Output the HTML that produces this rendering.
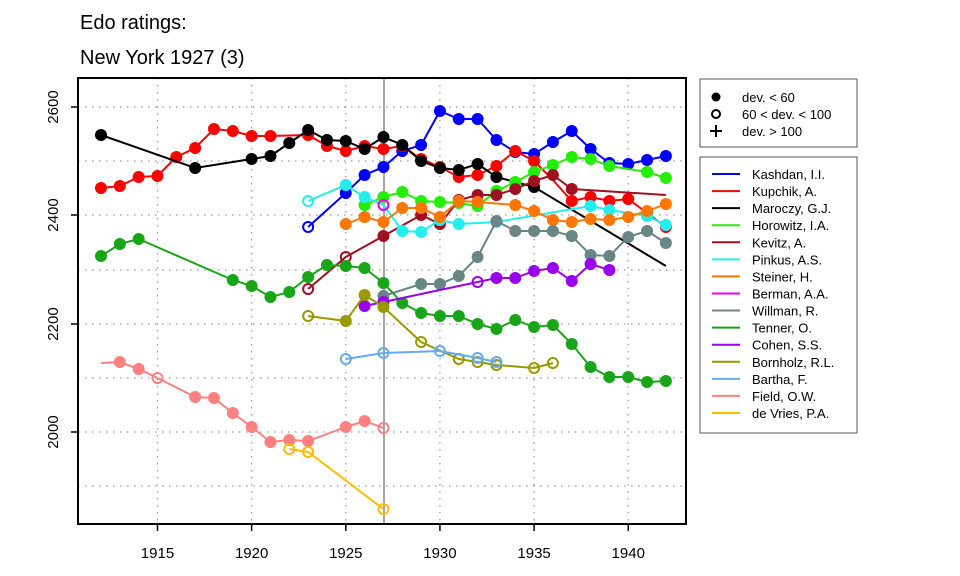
<!DOCTYPE html>
<html><head><meta charset="utf-8"><style>body{margin:0;background:#fff}svg{display:block}text{font-family:"Liberation Sans",Arial,sans-serif}</style></head>
<body>
<svg id="s" width="960" height="576" xmlns="http://www.w3.org/2000/svg">
<text x="80" y="29" font-size="20">Edo ratings:</text>
<text x="80" y="64" font-size="20">New York 1927 (3)</text>
<g id="grid" stroke="#999" stroke-width="1.2" stroke-dasharray="1.5,5.5"></g>
<line x1="384" y1="78" x2="384" y2="524" stroke="#888" stroke-width="1.5"/>
<g id="data"></g>
<rect x="78" y="78" width="608" height="446" fill="none" stroke="#000" stroke-width="2"/>
<g id="axes" font-size="15"></g>
<rect x="700" y="79" width="157" height="68" fill="#fff" stroke="#555"/>
<circle cx="716" cy="97" r="4.5" fill="#000"/>
<circle cx="716" cy="114" r="4" fill="none" stroke="#000" stroke-width="2"/>
<path d="M710 131h12M716 125v12" stroke="#000" stroke-width="2"/>
<g font-size="13"><text x="742" y="102">dev. &lt; 60</text><text x="742" y="119">60 &lt; dev. &lt; 100</text><text x="742" y="136">dev. &gt; 100</text></g>
<rect x="700" y="157" width="157" height="276" fill="#fff" stroke="#555"/>
<g id="leg" font-size="13"></g>
</svg>
<script>
const NS="http://www.w3.org/2000/svg";
function el(p,t,a,txt){const e=document.createElementNS(NS,t);for(const k in a)e.setAttribute(k,a[k]);if(txt)e.textContent=txt;document.getElementById(p).appendChild(e);return e;}
const X=y=>101+(y-1912)*18.83;
[107,161,215,270,324,378,432,486].forEach(y=>el('grid','line',{x1:78,x2:686,y1:y,y2:y}));
[1915,1920,1925,1930,1935,1940].forEach(yr=>el('grid','line',{x1:X(yr),x2:X(yr),y1:78,y2:524}));
[1915,1920,1925,1930,1935,1940].forEach(yr=>{el('axes','line',{x1:X(yr),x2:X(yr),y1:524,y2:531,stroke:'#000','stroke-width':1.5});el('axes','text',{x:X(yr),y:558,'text-anchor':'middle'},String(yr));});
[[107,'2600'],[215,'2400'],[324,'2200'],[432,'2000']].forEach(([y,t])=>{el('axes','line',{x1:71,x2:78,y1:y,y2:y,stroke:'#000','stroke-width':1.5});el('axes','text',{x:0,y:0,'text-anchor':'middle',transform:`translate(58 ${y}) rotate(-90)`},t);});
const S=[
['Kashdan, I.I.','#0000ff',[[1923,227,'o'],[1925,193],[1926,175],[1927,167],[1928,151],[1929,145],[1930,111],[1931,119],[1932,119],[1933,140],[1934,152],[1935,154],[1936,142],[1937,131],[1938,149],[1939,163],[1940,164],[1941,160],[1942,156]]],
['Kupchik, A.','#ff0000',[[1912,188],[1913,186],[1914,177],[1915,176],[1916,157],[1917,148],[1918,129],[1919,131],[1920,136],[1921,136],[1923,135],[1924,146],[1925,151],[1926,146],[1927,149],[1928,146],[1929,159],[1930,167],[1931,177],[1932,175],[1933,166],[1934,151],[1935,161],[1936,180,'n'],[1937,201],[1938,197],[1939,201],[1940,199],[1941,213],[1942,227,'o']]],
['Maroczy, G.J.','#000000',[[1912,135],[1917,168],[1920,159],[1921,156],[1922,143],[1923,130],[1924,140],[1925,141],[1926,149],[1927,137],[1928,145],[1929,161],[1930,168],[1931,170],[1932,164],[1933,177],[1935,187],[1942,266,'n']]],
['Horowitz, I.A.','#22ee00',[[1926,205],[1927,197],[1928,192],[1929,201],[1930,202],[1931,203],[1932,206],[1933,191],[1934,182],[1935,172],[1936,165],[1937,157],[1938,159],[1939,166],[1941,172],[1942,178]]],
['Kevitz, A.','#a01020',[[1923,289,'o'],[1925,257,'o'],[1927,236],[1929,215],[1930,224],[1931,200],[1932,195],[1933,195],[1934,189],[1935,181],[1936,175],[1937,189],[1942,195,'n']]],
['Pinkus, A.S.','#22eeee',[[1923,201,'o'],[1925,185],[1926,197],[1927,205,'o'],[1928,231],[1929,232],[1930,220],[1931,224],[1933,222],[1938,206],[1939,210],[1941,216],[1942,225]]],
['Steiner, H.','#ff7700',[[1925,224],[1926,217],[1927,222],[1928,208],[1929,208],[1930,217],[1931,201],[1932,202],[1934,205],[1935,211],[1936,220],[1937,222],[1938,219],[1939,220],[1940,217],[1941,211],[1942,204]]],
['Berman, A.A.','#ee00ee',[[1927,205,'o']]],
['Willman, R.','#6a8585',[[1927,296],[1929,284],[1930,284],[1931,276],[1932,257],[1933,221],[1934,231],[1935,231],[1936,231],[1937,236],[1938,255],[1939,256],[1940,237],[1941,231],[1942,243]]],
['Tenner, O.','#18a518',[[1912,256],[1913,244],[1914,239],[1919,280],[1920,286],[1921,297],[1922,292],[1923,277],[1924,265],[1925,266],[1926,268],[1927,283],[1928,303],[1929,313],[1930,316],[1931,316],[1932,324],[1933,329],[1934,320],[1935,327],[1936,325],[1937,344],[1938,367],[1939,377],[1940,377],[1941,382],[1942,381]]],
['Cohen, S.S.','#9900ee',[[1926,306],[1927,302],[1932,282,'o'],[1933,278],[1934,278],[1935,271],[1936,268],[1937,281],[1938,264],[1939,270]]],
['Bornholz, R.L.','#999900',[[1923,316,'o'],[1925,321],[1926,295],[1927,307],[1929,342,'o'],[1931,359,'o'],[1932,362,'o'],[1933,365,'o'],[1935,368,'o'],[1936,363,'o']]],
['Bartha, F.','#66aaee',[[1925,359,'o'],[1927,353,'o'],[1930,351,'o'],[1932,358,'o'],[1933,362,'o']]],
['Field, O.W.','#ff8080',[[1912,363,'n'],[1913,362],[1914,369],[1915,378,'o'],[1917,397],[1918,398],[1919,413],[1920,427],[1921,442],[1922,440],[1923,441],[1925,427],[1926,421],[1927,428,'o']]],
['de Vries, P.A.','#ffbb00',[[1922,449,'o'],[1923,452,'o'],[1927,509,'o']]]
];
S.forEach(([n,c,p],i)=>{
  const g=el('data','g',{});
  if(p.length>1){const pl=document.createElementNS(NS,'polyline');pl.setAttribute('points',p.map(q=>X(q[0])+','+q[1]).join(' '));pl.setAttribute('fill','none');pl.setAttribute('stroke',c);pl.setAttribute('stroke-width',2);g.appendChild(pl);}
  p.forEach(q=>{const t=q[2]||'f';if(t==='n')return;const ci=document.createElementNS(NS,'circle');ci.setAttribute('cx',X(q[0]));ci.setAttribute('cy',q[1]);
    if(t==='f'){ci.setAttribute('r',6);ci.setAttribute('fill',c);}else{ci.setAttribute('r',5);ci.setAttribute('fill','none');ci.setAttribute('stroke',c);ci.setAttribute('stroke-width',2);}
    g.appendChild(ci);});
  const y=174+i*17.07;
  el('leg','line',{x1:712,x2:740,y1:y,y2:y,stroke:c,'stroke-width':2});
  el('leg','text',{x:752,y:y+5},n);
});
</script>
</body></html>
